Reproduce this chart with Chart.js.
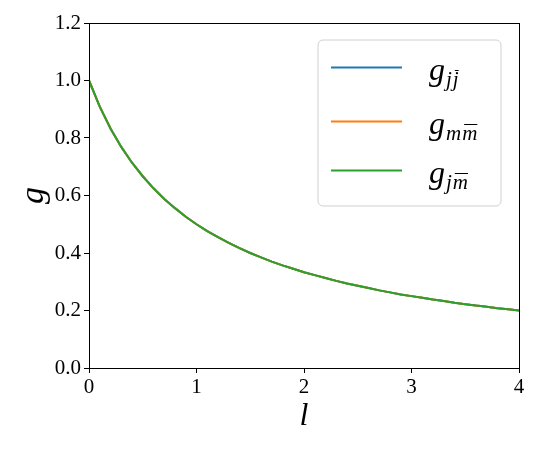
<!DOCTYPE html>
<html>
<head>
<meta charset="utf-8">
<script src="https://cdn.jsdelivr.net/npm/chart.js@4.4.1/dist/chart.umd.min.js"></script>
<style>
  html, body { margin: 0; padding: 0; background: #fff; }
  #wrap { width: 540px; height: 450px; }
</style>
</head>
<body>
<div id="wrap"><canvas id="gChart" width="540" height="450"></canvas></div>
<script>
// values (l from 0 to 4 in steps of 0.1)
var lValues = [0.0,0.1,0.2,0.3,0.4,0.5,0.6,0.7,0.8,0.9,1.0,1.1,1.2,1.3,1.4,1.5,1.6,1.7,1.8,1.9,2.0,
               2.1,2.2,2.3,2.4,2.5,2.6,2.7,2.8,2.9,3.0,3.1,3.2,3.3,3.4,3.5,3.6,3.7,3.8,3.9,4.0];
var gJJ = [1.000,0.909,0.833,0.769,0.714,0.667,0.625,0.588,0.556,0.526,0.500,0.476,0.455,0.435,0.417,0.400,
           0.385,0.370,0.357,0.345,0.333,0.323,0.313,0.303,0.294,0.286,0.278,0.270,0.263,0.256,0.250,
           0.244,0.238,0.233,0.227,0.222,0.217,0.213,0.208,0.204,0.200];
var gMM = [1.000,0.909,0.833,0.769,0.714,0.667,0.625,0.588,0.556,0.526,0.500,0.476,0.455,0.435,0.417,0.400,
           0.385,0.370,0.357,0.345,0.333,0.323,0.313,0.303,0.294,0.286,0.278,0.270,0.263,0.256,0.250,
           0.244,0.238,0.233,0.227,0.222,0.217,0.213,0.208,0.204,0.200];
var gJM = [1.000,0.909,0.833,0.769,0.714,0.667,0.625,0.588,0.556,0.526,0.500,0.476,0.455,0.435,0.417,0.400,
           0.385,0.370,0.357,0.345,0.333,0.323,0.313,0.303,0.294,0.286,0.278,0.270,0.263,0.256,0.250,
           0.244,0.238,0.233,0.227,0.222,0.217,0.213,0.208,0.204,0.200];
var xTicks = [0, 1, 2, 3, 4];
var yTicks = [0.0, 0.2, 0.4, 0.6, 0.8, 1.0, 1.2];
// legend: main letter + subscript letters; bar marks which subscript letter has the macron
var legendItems = [
    { sub: ['j', 'j'], bar: 1 },
    { sub: ['m', 'm'], bar: 1 },
    { sub: ['j', 'm'], bar: 1 }
];

var SERIF = "'Liberation Serif', 'DejaVu Serif', serif";

function pts(ys) {
    return lValues.map(function (x, i) { return { x: x, y: ys[i] }; });
}

// box round the plot + legend drawn like matplotlib's
var framePlugin = {
    id: 'frame',
    afterDraw: function (chart) {
        var ctx = chart.ctx, a = chart.chartArea;
        ctx.save();
        ctx.strokeStyle = '#000';
        ctx.lineWidth = 1;
        ctx.strokeRect(Math.round(a.left) + 0.5, Math.round(a.top) + 0.5,
                       Math.round(a.right - a.left), Math.round(a.bottom - a.top));

        // legend box
        var bx = 318, by = 40, bw = 183, bh = 166, r = 5;
        ctx.beginPath();
        ctx.moveTo(bx + r, by);
        ctx.arcTo(bx + bw, by, bx + bw, by + bh, r);
        ctx.arcTo(bx + bw, by + bh, bx, by + bh, r);
        ctx.arcTo(bx, by + bh, bx, by, r);
        ctx.arcTo(bx, by, bx + bw, by, r);
        ctx.closePath();
        ctx.fillStyle = 'rgba(255,255,255,0.8)';
        ctx.fill();
        ctx.strokeStyle = '#d0d0d0';
        ctx.stroke();

        var rowsY = [67, 121, 170];
        chart.data.datasets.forEach(function (ds, i) {
            var y = rowsY[i];
            ctx.strokeStyle = ds.borderColor;
            ctx.lineWidth = 2;
            ctx.beginPath();
            ctx.moveTo(331, y + 0.5);
            ctx.lineTo(402, y + 0.5);
            ctx.stroke();

            var item = legendItems[i];
            ctx.fillStyle = '#000';
            ctx.textBaseline = 'alphabetic';
            ctx.textAlign = 'left';
            ctx.font = 'italic 32px ' + SERIF;
            ctx.fillText('g', 429, y + 13);
            var x = 429 + ctx.measureText('g').width + 1;
            ctx.font = 'italic 21px ' + SERIF;
            item.sub.forEach(function (c, k) {
                var w = ctx.measureText(c).width;
                ctx.fillText(c, x, y + 19);
                if (k === item.bar) {
                    ctx.lineWidth = 1;
                    ctx.strokeStyle = '#000';
                    ctx.beginPath();
                    ctx.moveTo(x + 2, y + 3.5);
                    ctx.lineTo(x + w, y + 3.5);
                    ctx.stroke();
                }
                x += w + 1;
            });
        });
        ctx.restore();
    }
};

var chart = new Chart(document.getElementById('gChart'), {
    type: 'line',
    data: {
        datasets: [{
            label: 'gjj',
            data: pts(gJJ),
            borderColor: '#1f77b4',
            borderWidth: 2,
            pointRadius: 0,
            fill: false,
            tension: 0,
            order: 3
        }, {
            label: 'gmm',
            data: pts(gMM),
            borderColor: '#ff7f0e',
            borderWidth: 2,
            pointRadius: 0,
            fill: false,
            tension: 0,
            order: 2
        }, {
            label: 'gjm',
            data: pts(gJM),
            borderColor: '#2ca02c',
            borderWidth: 2,
            pointRadius: 0,
            fill: false,
            tension: 0,
            order: 1
        }]
    },
    options: {
        responsive: false,
        animation: false,
        layout: { padding: { left: 10, right: 21, top: 23, bottom: 10 } },
        plugins: {
            legend: { display: false },
            tooltip: { enabled: false }
        },
        scales: {
            x: {
                type: 'linear',
                min: 0,
                max: 4,
                afterBuildTicks: function (scale) {
                    scale.ticks = xTicks.map(function (v) { return { value: v }; });
                },
                afterFit: function (scale) { scale.height = 72; },
                grid: { drawOnChartArea: false, drawTicks: true, tickLength: 5, color: '#000' },
                border: { display: false },
                ticks: {
                    color: '#000',
                    padding: 2,
                    maxRotation: 0,
                    font: { family: SERIF, size: 21 },
                    callback: function (v) { return String(v); }
                },
                title: {
                    display: true,
                    text: 'l',
                    color: '#000',
                    padding: { top: 0 },
                    font: { family: SERIF, size: 32, style: 'italic' }
                }
            },
            y: {
                type: 'linear',
                min: 0,
                max: 1.2,
                afterBuildTicks: function (scale) {
                    scale.ticks = yTicks.map(function (v) { return { value: v }; });
                },
                afterFit: function (scale) { scale.width = 79; },
                grid: { drawOnChartArea: false, drawTicks: true, tickLength: 5, color: '#000' },
                border: { display: false },
                ticks: {
                    color: '#000',
                    padding: 3,
                    font: { family: SERIF, size: 21 },
                    callback: function (v) { return v.toFixed(1); }
                },
                title: {
                    display: true,
                    text: 'g',
                    color: '#000',
                    padding: { bottom: 0 },
                    font: { family: SERIF, size: 34, style: 'italic' }
                }
            }
        }
    },
    plugins: [framePlugin]
});
</script>
</body>
</html>
